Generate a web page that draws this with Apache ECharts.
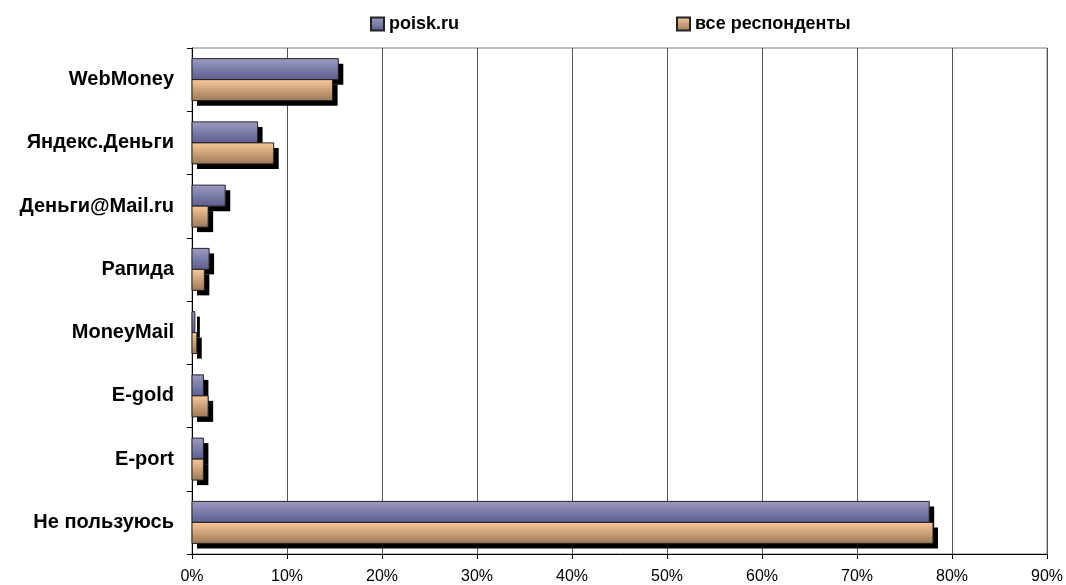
<!DOCTYPE html>
<html>
<head>
<meta charset="utf-8">
<script src="https://cdn.jsdelivr.net/npm/echarts@6/dist/echarts.min.js"></script>
<style>
  html, body { margin: 0; padding: 0; background: #fff; }
  #chart { width: 1066px; height: 585px; }
</style>
</head>
<body>
<div id="chart"></div>
<script>
const categories = ["WebMoney", "Яндекс.Деньги", "Деньги@Mail.ru", "Рапида", "MoneyMail", "E-gold", "E-port", "Не пользуюсь"];
const poiskValues = [15.4, 6.9, 3.5, 1.8, 0.3, 1.2, 1.2, 77.6];
const allValues = [14.8, 8.6, 1.7, 1.3, 0.5, 1.7, 1.2, 78.0];
const seriesNames = ["poisk.ru", "все респонденты"];
const xTicks = [0, 10, 20, 30, 40, 50, 60, 70, 80, 90];

const font = "Liberation Sans, Arial, sans-serif";
const BAR_H = 21;
const SHADOW = 5;

const grad = (top, bottom) => new echarts.graphic.LinearGradient(0, 0, 0, 1, [
  { offset: 0, color: top },
  { offset: 1, color: bottom },
]);

const purple = ["#9c9cc4", "#5c5c8e"];
const peach = ["#fcca9a", "#9a7858"];

// bar with a hard black drop shadow; offset = which half of the category band
const makeRender = (offset, colors) => (params, api) => {
  const cat = api.value(1);
  const p0 = api.coord([0, cat]);
  const p1 = api.coord([api.value(0), cat]);
  const y = p0[1] + offset * BAR_H;
  const w = p1[0] - p0[0];
  return {
    type: "group",
    children: [
      {
        type: "rect",
        shape: { x: p0[0] + SHADOW, y: y + SHADOW, width: w, height: BAR_H },
        style: { fill: "#000" },
      },
      {
        type: "rect",
        shape: { x: p0[0], y: y, width: w, height: BAR_H },
        style: { fill: grad(colors[0], colors[1]), stroke: "#222", lineWidth: 1 },
      },
    ],
  };
};

const legendText = { fontFamily: font, fontWeight: "bold", fontSize: 18, color: "#000" };

const option = {
  animation: false,
  legend: [
    {
      data: [{ name: seriesNames[0], icon: "rect" }],
      left: 370, top: 15, padding: 0,
      itemWidth: 13, itemHeight: 13, itemGap: 4,
      textStyle: legendText,
    },
    {
      data: [{ name: seriesNames[1], icon: "rect" }],
      left: 676, top: 15, padding: 0,
      itemWidth: 13, itemHeight: 13, itemGap: 4,
      textStyle: legendText,
    },
  ],
  grid: {
    left: 192,
    right: 18,
    top: 48,
    bottom: 30,
    show: true,
    borderColor: "#808080",
    borderWidth: 1,
  },
  xAxis: {
    type: "value",
    min: xTicks[0],
    max: xTicks[xTicks.length - 1],
    interval: 10,
    axisLine: { show: true, lineStyle: { color: "#000" } },
    axisTick: { show: true, length: 5, lineStyle: { color: "#000" } },
    axisLabel: {
      formatter: "{value}%",
      fontFamily: font,
      fontSize: 16,
      color: "#000",
      margin: 15,
    },
    splitLine: { lineStyle: { color: "#555", width: 1 } },
  },
  yAxis: {
    type: "category",
    inverse: true,
    data: categories,
    axisLine: { show: true, lineStyle: { color: "#000" } },
    axisTick: { show: true, length: 5, lineStyle: { color: "#000" } },
    axisLabel: {
      fontFamily: font,
      fontWeight: "bold",
      fontSize: 20,
      color: "#000",
      margin: 18,
    },
  },
  series: [
    {
      name: seriesNames[0],
      type: "custom",
      renderItem: makeRender(-1, purple),
      encode: { x: 0, y: 1 },
      data: poiskValues.map((v, i) => [v, i]),
      itemStyle: { color: grad(purple[0], purple[1]), borderColor: "#222", borderWidth: 1 },
    },
    {
      name: seriesNames[1],
      type: "custom",
      renderItem: makeRender(0, peach),
      encode: { x: 0, y: 1 },
      data: allValues.map((v, i) => [v, i]),
      itemStyle: { color: grad(peach[0], peach[1]), borderColor: "#222", borderWidth: 1 },
    },
  ],
};

const myChart = echarts.init(document.getElementById("chart"));
myChart.setOption(option);
</script>
</body>
</html>
